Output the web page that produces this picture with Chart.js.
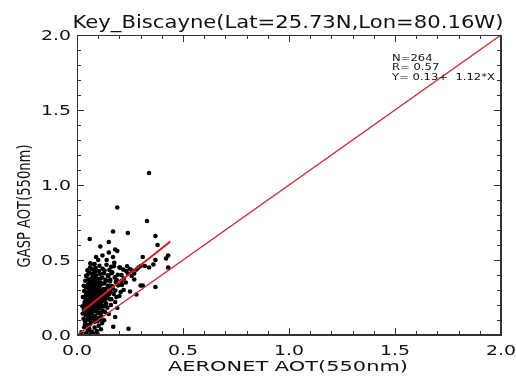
<!DOCTYPE html>
<html>
<head>
<meta charset="utf-8">
<script src="https://cdn.jsdelivr.net/npm/chart.js@4"></script>
<style>
  body { margin: 0; background: #fff; }
  canvas { display: block; }
</style>
</head>
<body>
<canvas id="myChart" width="516" height="387"></canvas>
<script>
// AERONET (x) vs GASP (y) AOT at 550nm
const aeronetAOT = [
  // low values
  0.021,0.034,0.043,0.052,0.047,0.063,0.058,0.071,0.066,0.083,0.077,0.094,0.088,0.102,0.097,0.113,0.118,0.039,0.031,0.061,0.171,0.243,0.128,0.079,
  // dense core
  0.042,0.056,0.068,0.087,0.104,0.112,0.061,
  0.033,0.045,0.053,0.064,0.072,0.081,0.093,0.098,0.107,0.121,0.049,0.076,
  0.036,0.041,0.054,0.059,0.066,0.069,0.074,0.078,0.084,0.089,0.092,0.098,0.103,0.111,0.117,0.126,0.138,
  0.028,0.044,0.051,0.057,0.062,0.067,0.073,0.079,0.086,0.091,0.096,0.101,0.109,0.123,0.131,0.142,0.154,
  0.034,0.046,0.048,0.056,0.063,0.068,0.075,0.082,0.087,0.093,0.099,0.106,0.114,0.122,0.133,0.141,0.158,
  0.043,0.052,0.058,0.064,0.071,0.081,0.087,0.094,0.103,0.109,0.124,0.128,0.147,0.168,
  0.039,0.053,0.061,0.072,0.078,0.091,0.097,0.112,0.119,0.137,0.157,0.183,
  0.051,0.058,0.074,0.082,0.089,0.104,0.108,0.127,0.148,0.166,0.192,
  0.062,0.071,0.083,0.088,0.106,0.121,0.139,0.161,0.176,0.203,0.218,0.236,
  // spread / outliers
  0.19,0.34,0.33,0.17,0.24,0.06,0.37,0.15,0.11,0.18,0.19,0.38,0.09,0.10,0.14,0.17,0.31,0.37,0.36,0.42,
  0.43,0.43,0.08,0.20,0.25,0.26,0.29,0.30,0.32,0.34,0.23,0.27,0.30,0.31,0.37,0.25,0.28,0.18,0.18,0.21,
  0.22,0.20,0.16,0.19,0.15,0.21,0.13,0.24,0.27,0.15,0.12,
  // more core
  0.047,0.055,0.064,0.069,0.084,0.095,0.101,0.116,0.057,0.076,0.086,0.091,0.107,0.113,0.119,0.124,0.129,0.134,0.143,0.146,
  0.151,0.156,0.162,0.165,0.173,0.178,0.181,0.186,0.194,0.206,0.037,0.049,0.063,0.073,0.027,0.038,0.051,0.059,0.072,0.081,
  0.089,0.096,0.108,0.115,0.132,0.026,0.042,0.055,0.065,0.077,0.084,0.093,0.099,0.111,0.117,0.134,0.145,0.153,0.163,0.174,
  0.049,0.043,0.032,0.063,0.187,0.212,0.221,0.232,0.258,0.281
];
const gaspAOT = [
  0.018,0.052,0.012,0.031,0.068,0.004,0.041,0.022,0.083,0.049,0.009,0.027,0.094,0.062,0.006,0.038,0.079,0.091,0.108,0.101,0.055,0.042,0.098,0.121,
  0.132,0.118,0.143,0.127,0.115,0.146,0.152,
  0.171,0.158,0.183,0.166,0.162,0.187,0.155,0.174,0.181,0.163,0.149,0.156,
  0.212,0.196,0.224,0.188,0.207,0.201,0.228,0.193,0.214,0.205,0.219,0.186,0.211,0.198,0.226,0.191,0.209,
  0.253,0.238,0.232,0.262,0.244,0.251,0.229,0.243,0.264,0.248,0.234,0.241,0.259,0.237,0.231,0.252,0.239,
  0.293,0.278,0.271,0.302,0.284,0.291,0.268,0.281,0.305,0.287,0.273,0.297,0.279,0.294,0.269,0.283,0.288,
  0.318,0.334,0.309,0.342,0.322,0.329,0.313,0.338,0.317,0.331,0.306,0.344,0.321,0.312,
  0.362,0.371,0.352,0.366,0.379,0.357,0.374,0.348,0.383,0.361,0.368,0.353,
  0.403,0.414,0.392,0.421,0.398,0.427,0.408,0.412,0.394,0.418,0.401,
  0.451,0.438,0.473,0.447,0.462,0.442,0.468,0.455,0.481,0.449,0.436,0.458,
  0.85,1.08,0.76,0.69,0.68,0.64,0.66,0.62,0.59,0.57,0.56,0.60,0.52,0.50,0.50,0.52,0.52,0.50,0.47,0.51,
  0.53,0.45,0.47,0.45,0.44,0.43,0.45,0.46,0.46,0.45,0.35,0.37,0.33,0.33,0.32,0.29,0.27,0.22,0.12,0.40,
  0.30,0.26,0.20,0.18,0.14,0.36,0.43,0.41,0.41,0.55,0.53,
  0.178,0.203,0.257,0.184,0.226,0.273,0.148,0.218,0.133,0.312,0.347,0.176,0.252,0.296,0.193,0.268,0.247,0.307,0.182,0.328,
  0.271,0.357,0.238,0.326,0.274,0.384,0.297,0.253,0.331,0.287,0.224,0.283,0.372,0.406,0.143,0.072,0.104,0.068,0.113,0.087,
  0.112,0.092,0.103,0.124,0.153,0.192,0.266,0.343,0.302,0.338,0.387,0.428,0.353,0.376,0.342,0.368,0.397,0.434,0.412,0.458,
  0.432,0.394,0.328,0.478,0.366,0.334,0.377,0.426,0.393,0.437
];

// fit from the stats box, drawn over the range of the data
const fitIntercept = 0.13;
const fitSlope = 1.12;
const fitRange = [0.03, 0.44];
const oneToOne = [0, 2];

const tickValues = [0, 0.5, 1.0, 1.5, 2.0];
const minorStep = 0.1;
const tickLabels = ["0.0", "0.5", "1.0", "1.5", "2.0"];
const statsLines = ["N=264", "R= 0.57", "Y= 0.13+  1.12*X"];

const titleText = "Key_Biscayne(Lat=25.73N,Lon=80.16W)";
const xTitle = "AERONET AOT(550nm)";
const yTitle = "GASP AOT(550nm)";

const FONT = "'DejaVu Sans', sans-serif";
const FRAME = "#333";

// text in the original is wide, so stretch it horizontally
function stretchText(g, text, x, y, size, opts) {
  g.save();
  g.font = size + "px " + FONT;
  g.fillStyle = "#111";
  g.textAlign = opts.align || "center";
  g.textBaseline = opts.baseline || "alphabetic";
  g.translate(x, y);
  if (opts.rotate) g.rotate(opts.rotate);
  let sx = opts.sx || 1;
  if (opts.width) sx = opts.width / g.measureText(text).width;
  g.scale(sx, opts.sy || 1);
  g.fillText(text, 0, 0);
  g.restore();
}

function drawFrame(chart) {
  const g = chart.ctx;
  const a = chart.chartArea;
  const xs = chart.scales.x, ys = chart.scales.y;
  g.save();
  g.setTransform(1, 0, 0, 1, 0, 0);
  g.globalAlpha = 1;
  g.globalCompositeOperation = "source-over";
  g.fillStyle = FRAME;
  g.fillRect(a.left, a.top, a.right - a.left, 1);
  g.fillRect(a.left, a.bottom - 1, a.right - a.left, 1);
  g.fillRect(a.left, a.top, 1, a.bottom - a.top);
  g.fillRect(a.right - 1, a.top, 1, a.bottom - a.top);
  // inward ticks on all four sides, minor every 0.1
  for (let i = 0; i <= 20; i++) {
    const v = i * minorStep;
    const len = i % 5 === 0 ? 7 : 4;
    const px = Math.min(Math.round(xs.getPixelForValue(v)), a.right - 1);
    g.fillRect(px, a.bottom - len, 1, len);
    g.fillRect(px, a.top, 1, len);
    const py = Math.min(Math.round(ys.getPixelForValue(v)), a.bottom - 1);
    g.fillRect(a.left, py, len, 1);
    g.fillRect(a.right - len, py, len, 1);
  }
  g.restore();
}

const idlFrame = {
  id: "idlFrame",
  beforeDraw(chart) {
    const g = chart.ctx;
    g.save();
    g.fillStyle = "#fff";
    g.fillRect(0, 0, chart.width, chart.height);
    g.restore();
  },
  afterDraw(chart) {
    const g = chart.ctx;
    const a = chart.chartArea;
    const xs = chart.scales.x, ys = chart.scales.y;

    // stats box
    g.save();
    g.font = "9.5px " + FONT;
    const ssx = 103 / g.measureText(statsLines[2]).width;
    g.restore();
    statsLines.forEach((t, i) => {
      stretchText(g, t, 392, 61 + i * 9.3, 9.5, { align: "left", sx: ssx });
    });

    // tick labels
    xs.ticks.forEach((t, i) => {
      stretchText(g, tickLabels[i], xs.getPixelForValue(t.value), a.bottom + 20, 14.5, { sx: 1.3 });
    });
    ys.ticks.forEach((t, i) => {
      stretchText(g, tickLabels[i], a.left - 6, ys.getPixelForValue(t.value) + 5, 14.5, { align: "right", sx: 1.3 });
    });

    // titles
    stretchText(g, titleText, 288, 28, 18, { width: 431 });
    stretchText(g, xTitle, 288, 371, 14, { width: 240 });
    stretchText(g, yTitle, 25, 206, 14, { rotate: -Math.PI / 2, baseline: "middle", width: 123, sy: 1.3 });

    drawFrame(chart);
  }
};

const points = aeronetAOT.map((x, i) => ({ x: x, y: gaspAOT[i] }));
const fitLine = fitRange.map(x => ({ x: x, y: fitIntercept + fitSlope * x }));
const diagLine = oneToOne.map(v => ({ x: v, y: v }));

const axisOpts = (extra) => Object.assign({
  type: "linear",
  min: 0,
  max: 2,
  border: { display: true, color: FRAME, width: 1 },
  ticks: { display: false },
  grid: { display: false, drawTicks: false },
  afterBuildTicks: s => { s.ticks = tickValues.map(v => ({ value: v })); }
}, extra);

new Chart(document.getElementById("myChart"), {
  type: "scatter",
  data: {
    datasets: [
      {
        label: "GASP vs AERONET",
        data: points,
        backgroundColor: "#000",
        borderColor: "#000",
        pointRadius: 2.3,
        pointBorderWidth: 0,
        order: 3
      },
      {
        label: "1:1",
        data: diagLine,
        showLine: true,
        borderColor: "rgb(205, 45, 50)",
        borderWidth: 1.4,
        pointRadius: 0,
        order: 2
      },
      {
        label: "fit",
        data: fitLine,
        showLine: true,
        borderColor: "rgb(220, 25, 35)",
        borderWidth: 2,
        pointRadius: 0,
        order: 1
      }
    ]
  },
  options: {
    responsive: false,
    animation: false,
    layout: { padding: { top: 35, right: 15 } },
    plugins: {
      legend: { display: false },
      tooltip: { enabled: false }
    },
    scales: {
      x: axisOpts({ position: "bottom", afterFit: s => { s.height = 52; } }),
      y: axisOpts({ position: "left", afterFit: s => { s.width = 77; } }),
      x2: axisOpts({ position: "top", afterFit: s => { s.height = 0; } }),
      y2: axisOpts({ position: "right", afterFit: s => { s.width = 0; } })
    }
  },
  plugins: [idlFrame]
});
</script>
</body>
</html>
